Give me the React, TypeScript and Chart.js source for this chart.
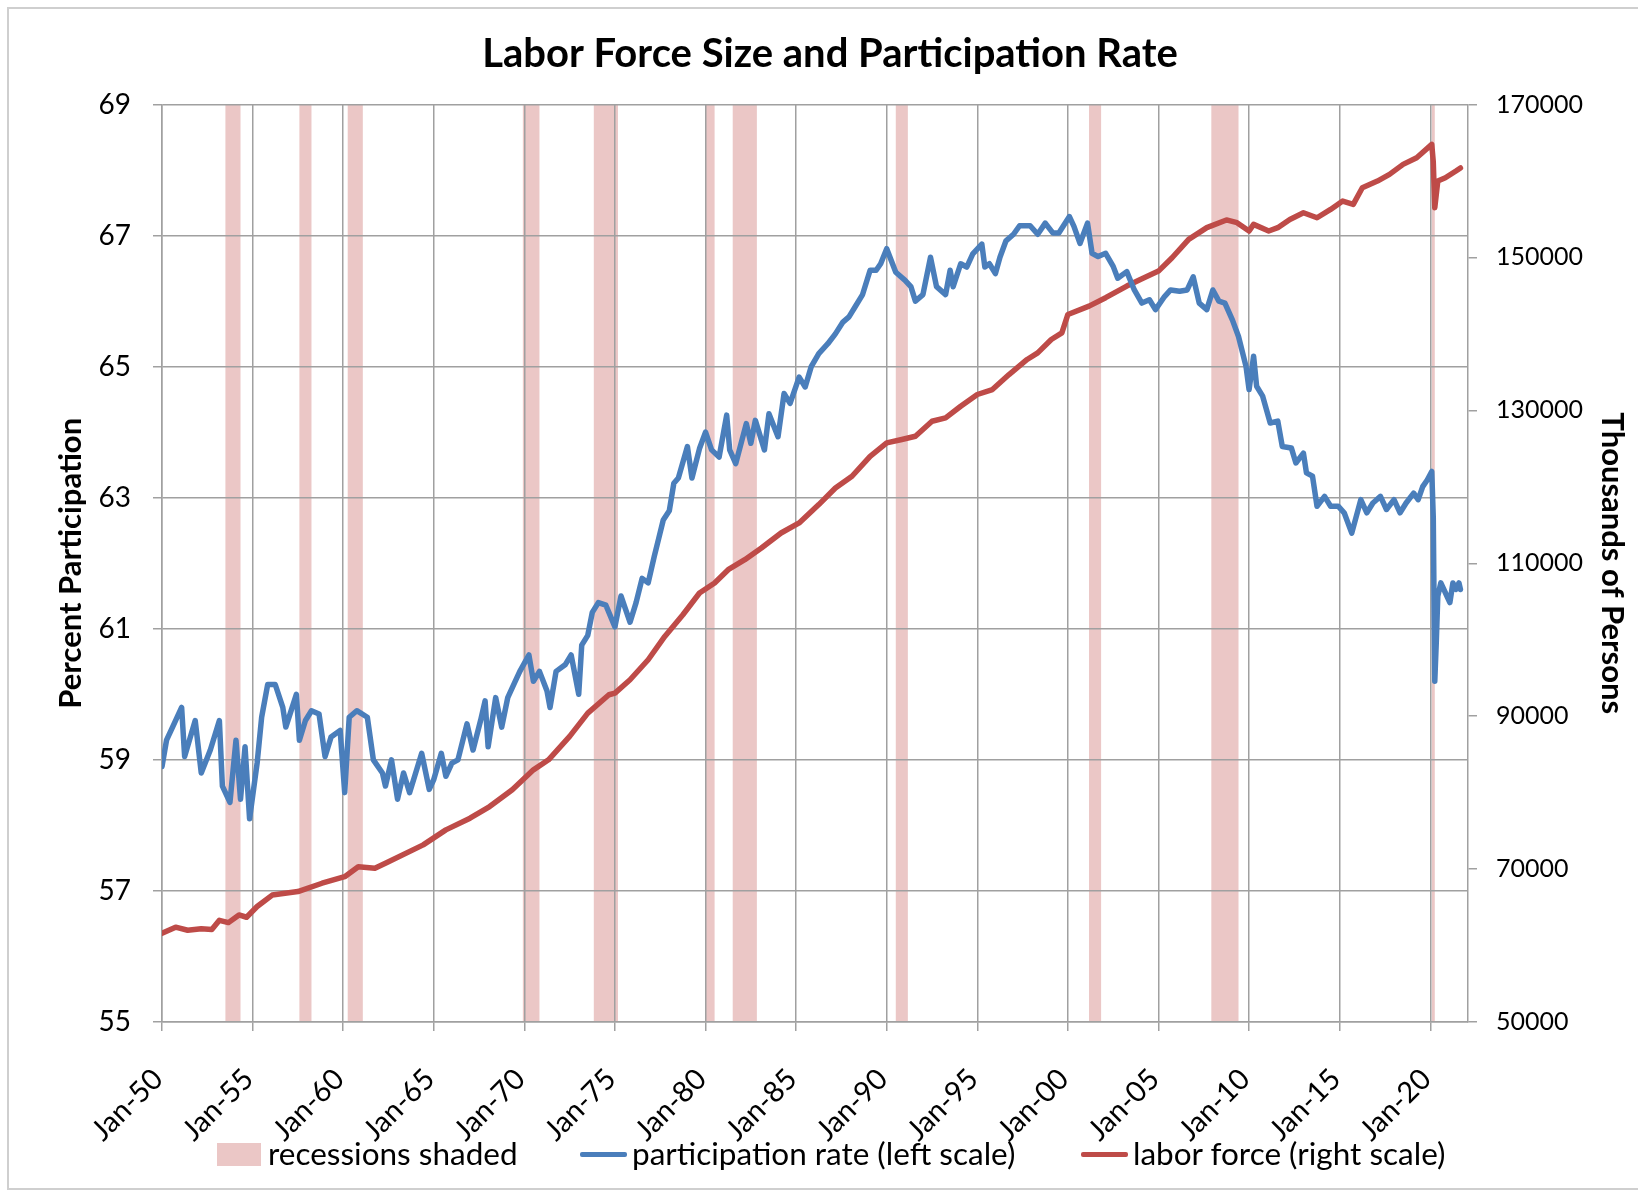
import React, { useEffect, useRef } from 'react';
import { Chart, registerables } from 'chart.js';

Chart.register(...registerables);

// ---------- DATA ----------
const xTickLabels = ['Jan-50', 'Jan-55', 'Jan-60', 'Jan-65', 'Jan-70', 'Jan-75', 'Jan-80', 'Jan-85', 'Jan-90', 'Jan-95', 'Jan-00', 'Jan-05', 'Jan-10', 'Jan-15', 'Jan-20'];

const recessionStarts = ['1953-07', '1957-08', '1960-04', '1969-12', '1973-11', '1980-01', '1981-07', '1990-07', '2001-03', '2007-12', '2020-02'];
const recessionEnds = ['1954-05', '1958-04', '1961-02', '1970-11', '1975-03', '1980-07', '1982-11', '1991-03', '2001-11', '2009-06', '2020-04'];

const participationDates = [
  '1950-01', '1950-04', '1950-08', '1951-02', '1951-04', '1951-11', '1952-03', '1952-09', '1953-03', '1953-05', '1953-10', '1954-02', '1954-05', '1954-08', '1954-11',
  '1955-04', '1955-07', '1955-11', '1956-04', '1956-09', '1956-11', '1957-06', '1957-08', '1957-12', '1958-04', '1958-09', '1959-01', '1959-05', '1959-11',
  '1960-02', '1960-05', '1960-10', '1961-05', '1961-09', '1962-03', '1962-05', '1962-09', '1963-01', '1963-05', '1963-09', '1964-01', '1964-05', '1964-10',
  '1965-01', '1965-06', '1965-09', '1966-01', '1966-05', '1966-11', '1967-03', '1967-08', '1967-11', '1968-01', '1968-06', '1968-10', '1969-02', '1969-07', '1969-10',
  '1970-04', '1970-07', '1970-11', '1971-04', '1971-06', '1971-10', '1972-04', '1972-08', '1973-01', '1973-03', '1973-07', '1973-10', '1974-02', '1974-07',
  '1975-01', '1975-05', '1975-08', '1975-11', '1976-03', '1976-07', '1976-11', '1977-03', '1977-06', '1977-09', '1978-01', '1978-04', '1978-07', '1979-01', '1979-04', '1979-09',
  '1980-01', '1980-05', '1980-10', '1981-03', '1981-05', '1981-09', '1982-04', '1982-07', '1982-10', '1983-04', '1983-07', '1984-01', '1984-05', '1984-09',
  '1985-03', '1985-07', '1985-11', '1986-04', '1986-10', '1987-03', '1987-08', '1987-12', '1988-04', '1988-09', '1989-02', '1989-06', '1989-09',
  '1990-01', '1990-04', '1990-07', '1991-01', '1991-05', '1991-08', '1992-01', '1992-06', '1992-10', '1993-04', '1993-07', '1993-09', '1994-02', '1994-06', '1994-10',
  '1995-04', '1995-06', '1995-09', '1996-01', '1996-04', '1996-08', '1997-01', '1997-05', '1997-12', '1998-05', '1998-10', '1999-03', '1999-07',
  '2000-02', '2000-05', '2000-09', '2001-02', '2001-05', '2001-09', '2002-02', '2002-07', '2002-10', '2003-04', '2003-09', '2004-02', '2004-07', '2004-11',
  '2005-05', '2005-09', '2006-03', '2006-08', '2006-12', '2007-04', '2007-09', '2008-01', '2008-05', '2008-09', '2009-02', '2009-06', '2009-11',
  '2010-01', '2010-04', '2010-06', '2010-10', '2011-03', '2011-08', '2011-11', '2012-05', '2012-08', '2013-01', '2013-03', '2013-07', '2013-10', '2014-03', '2014-07', '2014-12',
  '2015-04', '2015-09', '2016-03', '2016-07', '2016-11', '2017-04', '2017-08', '2018-01', '2018-05', '2018-09', '2019-02', '2019-05', '2019-08', '2019-11',
  '2020-02', '2020-03', '2020-04', '2020-05', '2020-06', '2020-08', '2020-10', '2020-12', '2021-02', '2021-04', '2021-06', '2021-08', '2021-09',
];
const participationValues = [
  58.9, 59.3, 59.5, 59.8, 59.05, 59.6, 58.8, 59.15, 59.6, 58.6, 58.35, 59.3, 58.4, 59.2, 58.1,
  58.95, 59.65, 60.15, 60.15, 59.8, 59.5, 60.0, 59.3, 59.6, 59.75, 59.7, 59.05, 59.35, 59.45,
  58.5, 59.65, 59.75, 59.65, 59.0, 58.8, 58.6, 59.0, 58.4, 58.8, 58.5, 58.8, 59.1, 58.55,
  58.7, 59.1, 58.75, 58.95, 59.0, 59.55, 59.15, 59.6, 59.9, 59.2, 59.95, 59.5, 59.95, 60.2, 60.35,
  60.6, 60.2, 60.35, 60.05, 59.8, 60.35, 60.45, 60.6, 60.0, 60.75, 60.9, 61.25, 61.4, 61.36,
  61.03, 61.5, 61.3, 61.1, 61.4, 61.77, 61.7, 62.1, 62.38, 62.66, 62.8, 63.22, 63.3, 63.78, 63.3, 63.75,
  64.0, 63.73, 63.62, 64.26, 63.73, 63.52, 64.13, 63.83, 64.18, 63.73, 64.28, 63.93, 64.59, 64.44,
  64.84, 64.69, 65.0, 65.2, 65.35, 65.5, 65.68, 65.76, 65.91, 66.1, 66.47, 66.47, 66.57,
  66.8, 66.62, 66.44, 66.32, 66.22, 66.0, 66.1, 66.67, 66.22, 66.1, 66.47, 66.22, 66.57, 66.52, 66.72,
  66.87, 66.52, 66.57, 66.42, 66.67, 66.92, 67.02, 67.15, 67.15, 67.02, 67.19, 67.04, 67.04,
  67.29, 67.14, 66.88, 67.19, 66.73, 66.68, 66.73, 66.53, 66.35, 66.45, 66.17, 65.97, 66.02, 65.87,
  66.07, 66.17, 66.15, 66.17, 66.37, 65.97, 65.87, 66.17, 66.0, 65.97, 65.71, 65.46, 65.0,
  64.65, 65.16, 64.7, 64.55, 64.14, 64.17, 63.78, 63.76, 63.53, 63.68, 63.38, 63.33, 62.87, 63.02, 62.87, 62.87,
  62.77, 62.46, 62.97, 62.77, 62.92, 63.02, 62.82, 62.97, 62.77, 62.92, 63.07, 62.97, 63.17, 63.27,
  63.4, 62.7, 60.2, 60.8, 61.5, 61.7, 61.6, 61.5, 61.4, 61.7, 61.6, 61.7, 61.6,
];

const laborDates = [
  '1950-01', '1950-10', '1951-06', '1952-03', '1952-10', '1953-03', '1953-09', '1954-04', '1954-09', '1955-04', '1956-02', '1957-07', '1958-11',
  '1960-02', '1960-11', '1961-10', '1962-06', '1964-06', '1965-09', '1967-01', '1968-02', '1969-05',
  '1970-07', '1971-05', '1972-07', '1973-07', '1974-09', '1975-01', '1975-11', '1976-11', '1977-10', '1978-10', '1979-09',
  '1980-07', '1981-04', '1982-03', '1983-02', '1984-03', '1985-03', '1986-04', '1987-03', '1988-02', '1989-02',
  '1990-01', '1990-11', '1991-08', '1992-07', '1993-04', '1994-02', '1995-01', '1995-11', '1996-10', '1997-10', '1998-05', '1999-02', '1999-09',
  '2000-01', '2001-03', '2002-02', '2003-04', '2004-01', '2005-01', '2005-10', '2006-09', '2007-09', '2008-10', '2009-05',
  '2010-01', '2010-04', '2011-02', '2011-08', '2012-04', '2013-01', '2013-10', '2014-07', '2015-03', '2015-10', '2016-04', '2017-02', '2017-10', '2018-07', '2019-04',
  '2020-02', '2020-03', '2020-04', '2020-06', '2020-11', '2021-06', '2021-09',
];
const laborValues = [
  61600, 62400, 62000, 62200, 62100, 63300, 63000, 64000, 63700, 65100, 66600, 67060, 68150,
  69000, 70300, 70100, 70850, 73170, 75130, 76660, 78180, 80370,
  82980, 84290, 87350, 90400, 92800, 93020, 94760, 97380, 100430, 103270, 106110,
  107420, 109160, 110470, 112000, 113960, 115270, 117670, 119850, 121380, 123990,
  125740, 126180, 126610, 128570, 129020, 130540, 132070, 132720, 134680, 136650, 137520, 139270, 140140,
  142540, 143630, 144730, 146250, 147120, 148210, 149960, 152360, 153890, 154900, 154540,
  153450, 154320, 153450, 153890, 154970, 155840, 155190, 156280, 157370, 156930, 159120, 159990, 160860, 162170, 163040,
  164780, 162500, 156500, 160000, 160420, 161300, 161700,
];

const legendLabels = ['recessions shaded', 'participation rate (left scale)', 'labor force (right scale)'];

// ---------- STYLE ----------
const BLUE = '#4A7EBB';
const RED = '#BE4B48';
const RECESSION = '#EBC7C6';
const GRID = '#A0A0A0';
const FONT = "Lato, 'Open Sans', sans-serif";

const toMonth = (s: string) => {
  const [y, m] = s.split('-').map(Number);
  return (y - 1950) * 12 + (m - 1);
};

const recessionPlugin = {
  id: 'recessionBands',
  beforeDraw(chart: any) {
    const { ctx, chartArea, scales } = chart;
    const xs = scales.x;
    ctx.save();
    ctx.fillStyle = RECESSION;
    recessionStarts.forEach((s, i) => {
      const x0 = xs.getPixelForValue(toMonth(s));
      const x1 = xs.getPixelForValue(toMonth(recessionEnds[i]));
      ctx.fillRect(x0, chartArea.top, Math.max(x1 - x0, 2), chartArea.bottom - chartArea.top);
    });
    ctx.restore();
  },
};

const legendText: React.CSSProperties = {
  position: 'absolute',
  top: 1135,
  fontFamily: FONT,
  fontSize: 31.5,
  lineHeight: 1.2,
  color: '#000',
  whiteSpace: 'nowrap',
};

export default function App() {
  const ref = useRef<HTMLCanvasElement | null>(null);

  useEffect(() => {
    if (!ref.current) return;
    Chart.defaults.font.family = FONT;
    Chart.defaults.color = '#000';

    const participation = participationDates.map((d, i) => ({ x: toMonth(d), y: participationValues[i] }));
    const labor = laborDates.map((d, i) => ({ x: toMonth(d), y: laborValues[i] }));

    const chart = new Chart(ref.current, {
      type: 'line',
      data: {
        datasets: [
          {
            label: legendLabels[1],
            data: participation,
            yAxisID: 'y',
            borderColor: BLUE,
            backgroundColor: BLUE,
            borderWidth: 5.5,
            pointRadius: 0,
            tension: 0,
            borderJoinStyle: 'round',
            borderCapStyle: 'round',
          },
          {
            label: legendLabels[2],
            data: labor,
            yAxisID: 'y1',
            borderColor: RED,
            backgroundColor: RED,
            borderWidth: 5.5,
            pointRadius: 0,
            tension: 0,
            borderJoinStyle: 'round',
            borderCapStyle: 'round',
          },
        ],
      },
      options: {
        responsive: false,
        animation: false,
        devicePixelRatio: 1,
        layout: { padding: { left: 22, right: 0, top: 0, bottom: 44 } },
        plugins: {
          title: {
            display: true,
            text: 'Labor Force Size and Participation Rate',
            color: '#000',
            font: { size: 40, weight: 'bold', family: FONT },
            padding: { top: 30, bottom: 26.5 },
          },
          legend: { display: false },
          tooltip: { enabled: false },
        },
        scales: {
          x: {
            type: 'linear',
            min: 0,
            max: 865,
            afterBuildTicks: (s: any) => {
              s.ticks = xTickLabels.map((_, i) => ({ value: i * 60 }));
            },
            afterFit: (s: any) => {
              s.height = 125;
            },
            ticks: {
              autoSkip: false,
              maxRotation: 45,
              minRotation: 45,
              padding: 31,
              labelOffset: -4,
              color: '#000',
              font: { size: 29, family: FONT },
              callback: (_v: any, i: number) => xTickLabels[i],
            },
            grid: { color: GRID, lineWidth: 1.5, tickLength: 9 },
            border: { color: GRID, width: 1.5 },
          },
          y: {
            type: 'linear',
            position: 'left',
            min: 55,
            max: 69,
            afterFit: (s: any) => {
              s.width = 140;
            },
            ticks: { stepSize: 2, padding: 22, color: '#000', font: { size: 28, family: FONT } },
            grid: { color: GRID, lineWidth: 1.5, tickLength: 9 },
            border: { color: GRID, width: 1.5 },
            title: {
              display: true,
              text: 'Percent Participation',
              color: '#000',
              font: { size: 31, weight: 'bold', family: FONT },
              padding: { top: 30, bottom: 0 },
            },
          },
          y1: {
            type: 'linear',
            position: 'right',
            min: 50000,
            max: 170000,
            afterFit: (s: any) => {
              s.width = 170;
            },
            ticks: {
              stepSize: 20000,
              padding: 19,
              color: '#000',
              font: { size: 25, family: FONT },
              callback: (v: any) => String(v),
            },
            grid: { drawOnChartArea: false, color: GRID, lineWidth: 1.5, tickLength: 9 },
            border: { color: GRID, width: 1.5 },
            title: {
              display: true,
              text: 'Thousands of Persons',
              color: '#000',
              font: { size: 31, weight: 'bold', family: FONT },
              padding: { top: 7, bottom: 0 },
            },
          },
        },
      },
      plugins: [recessionPlugin],
    } as any);

    return () => chart.destroy();
  }, []);

  return (
    <>
      <div
        style={{
          position: 'absolute',
          left: 7,
          top: 7,
          width: 1631,
          height: 1183,
          boxSizing: 'border-box',
          borderLeft: '2px solid #CFCFCF',
          borderTop: '2px solid #CFCFCF',
          borderBottom: '2px solid #CFCFCF',
        }}
      />
      <div style={{ position: 'absolute', left: 0, top: 0, width: 1638, height: 1191 }}>
        <canvas ref={ref} width={1638} height={1191} style={{ display: 'block', width: 1638, height: 1191 }} />
      </div>
      {/* legend */}
      <div style={{ position: 'absolute', left: 217, top: 1143, width: 44, height: 23, background: RECESSION }} />
      <div style={{ ...legendText, left: 268 }}>{legendLabels[0]}</div>
      <div style={{ position: 'absolute', left: 580, top: 1152, width: 47, height: 5, background: BLUE, borderRadius: 2 }} />
      <div style={{ ...legendText, left: 632 }}>{legendLabels[1]}</div>
      <div style={{ position: 'absolute', left: 1081, top: 1152, width: 47, height: 5, background: RED, borderRadius: 2 }} />
      <div style={{ ...legendText, left: 1133 }}>{legendLabels[2]}</div>
    </>
  );
}
